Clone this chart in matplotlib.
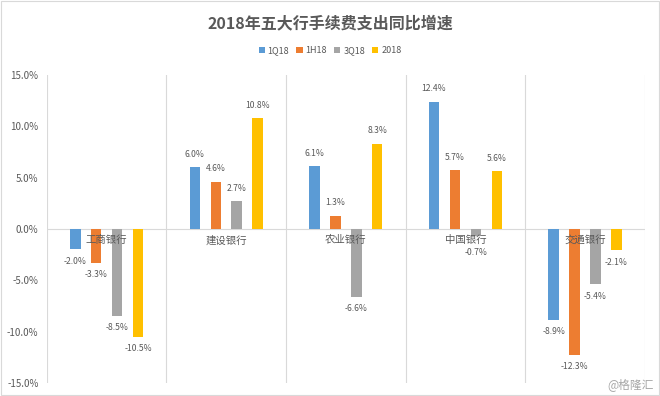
import matplotlib
matplotlib.use("Agg")
import matplotlib.pyplot as plt
import numpy as np

plt.rcParams['font.family'] = ['Noto Sans CJK SC', 'DejaVu Sans']

# data (%)
banks = ["工商银行", "建设银行", "农业银行", "中国银行", "交通银行"]
series = ["1Q18", "1H18", "3Q18", "2018"]
q1 = [-2.0, 6.0, 6.1, 12.4, -8.9]
h1 = [-3.3, 4.6, 1.3, 5.7, -12.3]
q3 = [-8.5, 2.7, -6.6, -0.7, -5.4]
fy = [-10.5, 10.8, 8.3, 5.6, -2.1]
colors = ["#5B9BD5", "#ED7D31", "#A5A5A5", "#FFC000"]

txt = "#595959"
fig = plt.figure(figsize=(6.6, 3.96), dpi=100)
ax = fig.add_axes([0.071, 0.033, 0.906, 0.778])

x = np.arange(len(banks))
w = 0.088
step = 0.175
for i, (vals, c, name) in enumerate(zip([q1, h1, q3, fy], colors, series)):
    pos = x + (i - 1.5) * step
    ax.bar(pos, vals, width=w, color=c, label=name, zorder=3)
    for px, v in zip(pos, vals):
        if v >= 0:
            ax.text(px, v + 0.8, f"{v:.1f}%", ha="center", va="bottom",
                    fontsize=6.2, color=txt, zorder=4)
        else:
            # keep small negatives clear of the category label
            ax.text(px, min(v - 0.7, -1.9), f"{v:.1f}%", ha="center", va="top",
                    fontsize=6.2, color=txt, zorder=4)

ax.set_xlim(-0.5, len(banks) - 0.5)
ax.set_ylim(-15, 15)
ax.set_yticks(np.arange(-15, 16, 5))
ax.set_yticklabels([f"{t:.1f}%" for t in np.arange(-15, 16, 5)], fontsize=7, color=txt)
ax.tick_params(axis="y", length=0, pad=6)
ax.set_xticks([])
for b in np.arange(-0.5, len(banks), 1):
    ax.axvline(b, color="#D9D9D9", lw=0.8, zorder=1)
ax.axhline(0, color="#D9D9D9", lw=0.8, zorder=2)
for s in ax.spines.values():
    s.set_visible(False)

for xi, name in zip(x, banks):
    ax.text(xi, -0.6, name, ha="center", va="top", fontsize=7.5, color=txt, zorder=5)

fig.text(0.5, 0.942, "2018年五大行手续费支出同比增速", ha="center", va="center",
         fontsize=11.5, fontweight="bold", color=txt)
fig.legend(loc="center", bbox_to_anchor=(0.5, 0.872), ncol=4, frameon=False,
           fontsize=6.5, handlelength=0.7, handleheight=0.7, handletextpad=0.3,
           columnspacing=0.8, labelcolor=txt)
fig.text(0.99, 0.03, "@格隆汇", ha="right", va="center", fontsize=8.5, color="#A6A6A6")

fig.patches.append(plt.Rectangle((0.002, 0.002), 0.996, 0.996, transform=fig.transFigure,
                                 fill=False, edgecolor="#D9D9D9", lw=0.8))

fig.savefig("out.png", dpi=100)
